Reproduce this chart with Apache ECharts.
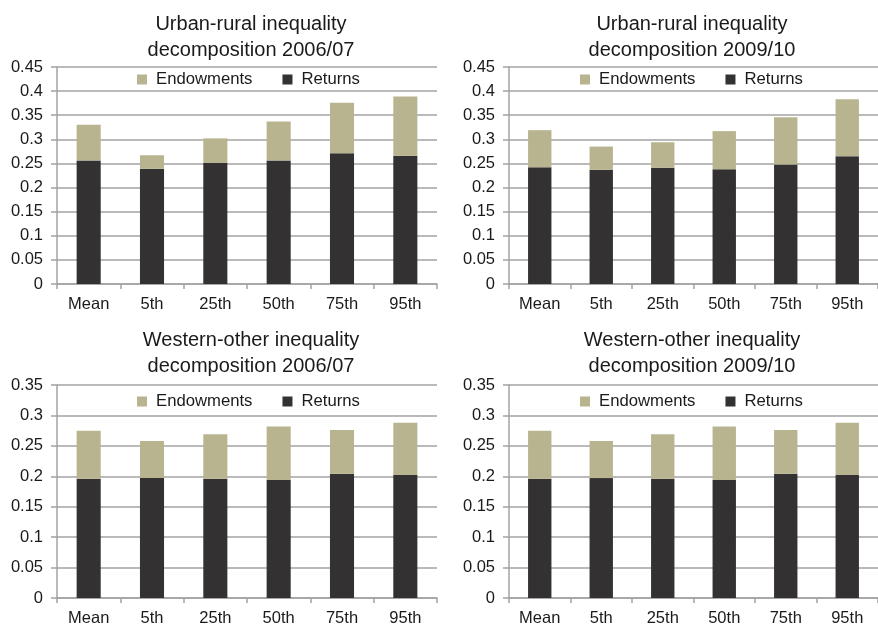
<!DOCTYPE html>
<html>
<head>
<meta charset="utf-8">
<script src="https://cdn.jsdelivr.net/npm/echarts@6/dist/echarts.min.js"></script>
<style>
  html, body { margin: 0; padding: 0; background: #fff; }
  #chart { width: 878px; height: 627px; }
</style>
</head>
<body>
<div id="chart"></div>
<script>
// categories shared by all four panels
const categories = ['Mean', '5th', '25th', '50th', '75th', '95th']

// panel titles
const titles = [
    'Urban-rural inequality\ndecomposition 2006/07',
    'Urban-rural inequality\ndecomposition 2009/10',
    'Western-other inequality\ndecomposition 2006/07',
    'Western-other inequality\ndecomposition 2009/10'
]

// returns (bottom, dark) and endowments (top, khaki) per panel
const urbanReturns0607 = [0.256, 0.239, 0.251, 0.256, 0.271, 0.266]
const urbanEndow0607 = [0.074, 0.028, 0.051, 0.081, 0.105, 0.123]
const urbanReturns0910 = [0.242, 0.237, 0.241, 0.238, 0.248, 0.265]
const urbanEndow0910 = [0.077, 0.048, 0.053, 0.079, 0.098, 0.118]
const westReturns0607 = [0.196, 0.197, 0.196, 0.194, 0.204, 0.202]
const westEndow0607 = [0.079, 0.061, 0.073, 0.088, 0.072, 0.086]
const westReturns0910 = [0.196, 0.197, 0.196, 0.194, 0.204, 0.202]
const westEndow0910 = [0.079, 0.061, 0.073, 0.088, 0.072, 0.086]

// y axis max per panel
const yMax = [0.45, 0.45, 0.35, 0.35]

const panels = [
    { returns: urbanReturns0607, endow: urbanEndow0607 },
    { returns: urbanReturns0910, endow: urbanEndow0910 },
    { returns: westReturns0607, endow: westEndow0607 },
    { returns: westReturns0910, endow: westEndow0910 }
]

const FONT = "'Liberation Sans', Arial, sans-serif"
const C_ENDOW = '#b8b48f'
const C_RET = '#333131'
const C_GRID = '#a3a3a3'
const C_TEXT = '#1a1a1a'

// layout of each panel
const boxes = [
    { left: 57, top: 67, width: 380, height: 217, titleX: 251, titleTop: 11, legendLeft: 137, legendTop: 71 },
    { left: 509, top: 67, width: 369, height: 217, titleX: 692, titleTop: 11, legendLeft: 580, legendTop: 71 },
    { left: 57, top: 385, width: 380, height: 216, titleX: 251, titleTop: 327, legendLeft: 137, legendTop: 393 },
    { left: 509, top: 385, width: 369, height: 216, titleX: 692, titleTop: 327, legendLeft: 580, legendTop: 393 }
]

const chart = echarts.init(document.getElementById('chart'))

const option = {
    animation: false,
    textStyle: { fontFamily: FONT },
    title: boxes.map((b, i) => ({
        text: titles[i],
        left: b.titleX,
        top: b.titleTop,
        textAlign: 'center',
        padding: 0,
        textStyle: { fontSize: 20, fontWeight: 'normal', color: C_TEXT, lineHeight: 26, fontFamily: FONT }
    })),
    legend: boxes.map((b, i) => ({
        left: b.legendLeft,
        top: b.legendTop,
        padding: 0,
        itemWidth: 10,
        itemHeight: 10,
        itemGap: 30,
        icon: 'rect',
        itemStyle: { borderWidth: 0 },
        textStyle: { fontSize: 16.7, color: C_TEXT, fontFamily: FONT, padding: [0, 0, 0, 4] },
        data: ['Endowments', 'Returns'],
        selectedMode: false
    })),
    grid: boxes.map(b => ({ left: b.left, top: b.top, width: b.width, height: b.height, containLabel: false })),
    xAxis: boxes.map((b, i) => ({
        type: 'category',
        gridIndex: i,
        data: categories,
        axisLine: { lineStyle: { color: C_GRID, width: 1.5 } },
        axisTick: { show: true, alignWithLabel: false, length: 5, lineStyle: { color: C_GRID, width: 1.5 } },
        axisLabel: { fontSize: 16.5, color: C_TEXT, margin: 12, fontFamily: FONT }
    })),
    yAxis: boxes.map((b, i) => ({
        type: 'value',
        gridIndex: i,
        min: 0,
        max: yMax[i],
        interval: 0.05,
        axisLine: { show: true, lineStyle: { color: C_GRID, width: 1.5 } },
        axisTick: { show: true, length: 6, lineStyle: { color: C_GRID, width: 1.5 } },
        axisLabel: {
            fontSize: 16.5, color: C_TEXT, margin: 14, fontFamily: FONT,
            formatter: v => String(Number(v.toFixed(2)))
        },
        splitLine: { show: true, lineStyle: { color: C_GRID, width: 1.5 } }
    })),
    series: []
}

panels.forEach((p, i) => {
    option.series.push({
        name: 'Returns',
        type: 'bar',
        stack: 'p' + i,
        xAxisIndex: i,
        yAxisIndex: i,
        data: p.returns,
        barWidth: '38%',
        itemStyle: { color: C_RET }
    })
    option.series.push({
        name: 'Endowments',
        type: 'bar',
        stack: 'p' + i,
        xAxisIndex: i,
        yAxisIndex: i,
        data: p.endow,
        barWidth: '38%',
        itemStyle: { color: C_ENDOW }
    })
})

chart.setOption(option)
</script>
</body>
</html>
